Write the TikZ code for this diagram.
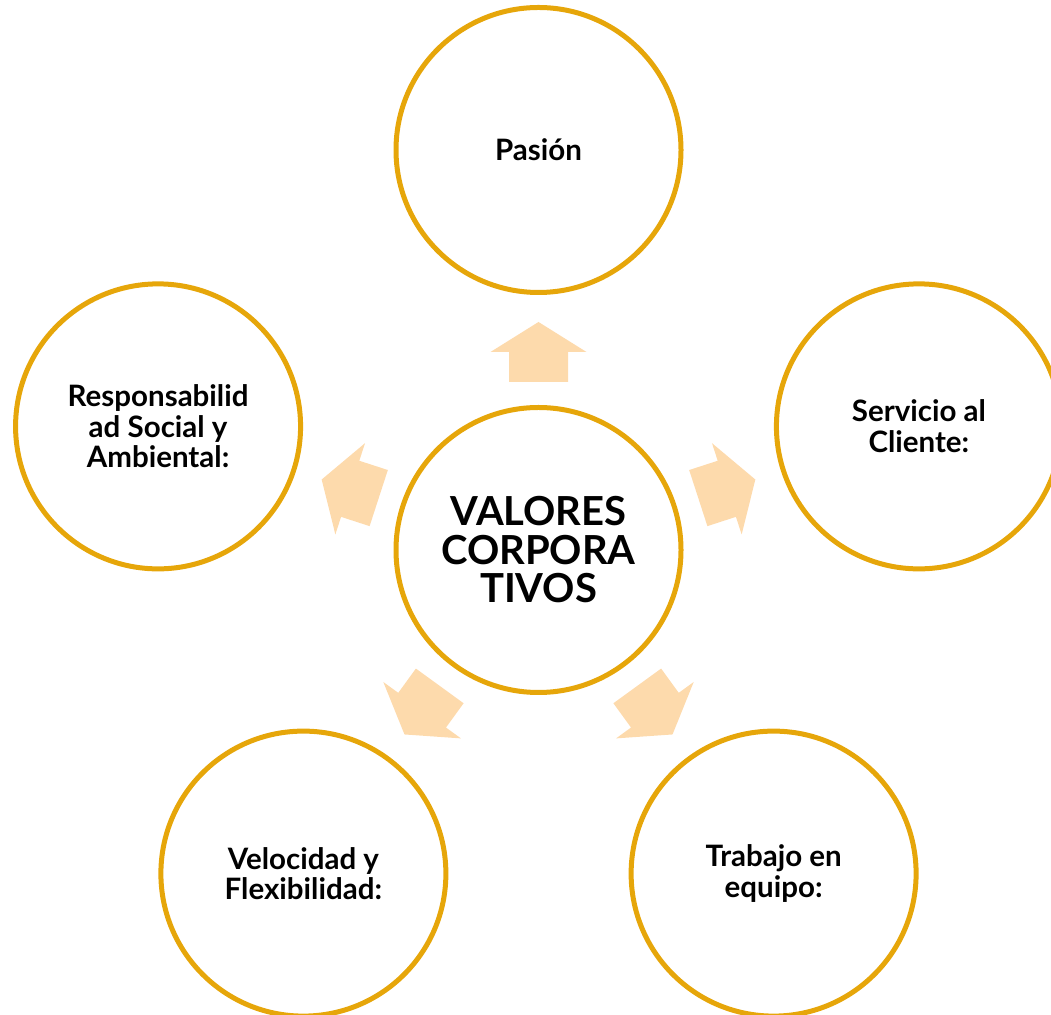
\documentclass[tikz,border=0pt]{standalone}
\usepackage{fontspec}
\setmainfont{Lato}
\usetikzlibrary{calc}
\definecolor{ringgold}{RGB}{230,166,10}
\definecolor{arrowpeach}{RGB}{253,218,172}
\tikzset{
  ring/.style={circle, draw=ringgold, line width=5pt, minimum size=285pt, inner sep=0pt, align=center, text=black},
  outertext/.style={font=\bfseries\fontsize{29.5}{30.5}\selectfont},
  centertext/.style={font=\bfseries\fontsize{40}{38.5}\selectfont},
  blockarrow/.style={fill=arrowpeach, draw=none}
}
\begin{document}
\begin{tikzpicture}[x=1pt,y=1pt]
\useasboundingbox (0,0) rectangle (1051,1014);
\node[ring, centertext] (c) at (538.5,464) {VALORES\\CORPORA\\TIVOS};
\node[ring, outertext] (pas) at ($(c.center)+(90:400)$) {Pasión};
\node[ring, outertext] (ser) at ($(c.center)+(18:400)$) {Servicio al\\Cliente:};
\node[ring, outertext] (tra) at ($(c.center)+(-54:400)$) {Trabajo en\\equipo:};
\node[ring, outertext] (vel) at ($(c.center)+(-126:400)$) {Velocidad y\\Flexibilidad:};
\node[ring, outertext] (res) at ($(c.center)+(162:400)$) {Responsabilid\\ad Social y\\Ambiental:};
\foreach \ang in {90,18,-54,-126,162}{
  \begin{scope}[shift={(c.center)}, rotate=\ang]
    \fill[blockarrow] (168,-29.5) -- (198,-29.5) -- (198,-48) -- (228,0) -- (198,48) -- (198,29.5) -- (168,29.5) -- cycle;
  \end{scope}
}
\end{tikzpicture}
\end{document}
